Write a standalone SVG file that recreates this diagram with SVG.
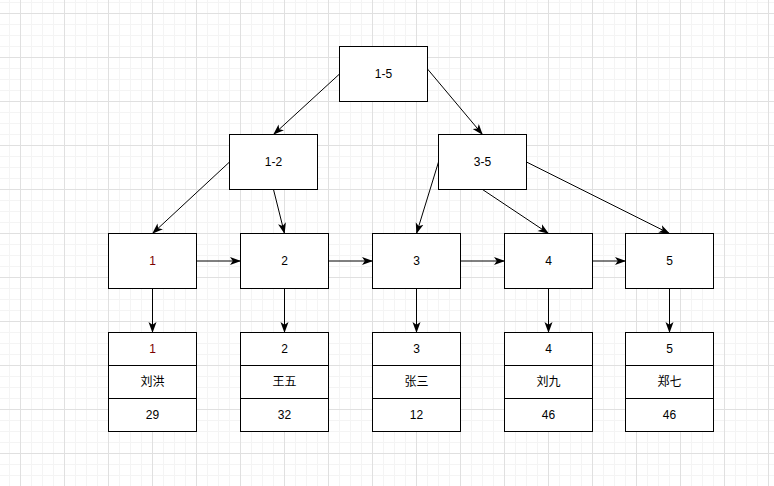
<svg xmlns="http://www.w3.org/2000/svg" width="774" height="486" viewBox="0 0 774 486">
<defs>
<pattern id="minor" x="20" y="13" width="11" height="11" patternUnits="userSpaceOnUse">
<path d="M0.5 0V11M0 0.5H11" fill="none" stroke="#f4f4f4" stroke-width="1"/>
</pattern>
<pattern id="major" x="20" y="13" width="44" height="44" patternUnits="userSpaceOnUse">
<path d="M0.5 0V44M0 0.5H44" fill="none" stroke="#e0e0e0" stroke-width="1"/>
</pattern>
<marker id="arr" viewBox="0 0 11 11" refX="10.5" refY="5.5" markerWidth="11" markerHeight="11" markerUnits="userSpaceOnUse" orient="auto">
<path d="M0 1.5L11 5.5L0 9.5L2.8 5.5Z" fill="#000"/>
</marker>
</defs>
<style>
.box{fill:#fff;stroke:#000;stroke-width:1}
.t{font-family:"Liberation Sans","Noto Sans CJK SC",sans-serif;font-size:12px;fill:#000;text-anchor:middle;dominant-baseline:central}
.red{fill:#7a0000}
.c{fill:none;stroke:#000;stroke-width:1;marker-end:url(#arr)}
</style>
<rect width="774" height="486" fill="#fff"/>
<rect width="774" height="486" fill="url(#minor)"/>
<rect width="774" height="486" fill="url(#major)"/>
<g id="connectors">
<path class="c" d="M339.5 74L273.5 134.5"/>
<path class="c" d="M427.5 69L482.5 134.5"/>
<path class="c" d="M229.5 162L152.5 233.5"/>
<path class="c" d="M273.5 189.5L284.5 233.5"/>
<path class="c" d="M438.5 162L416.5 233.5"/>
<path class="c" d="M482.5 189.5L548.5 233.5"/>
<path class="c" d="M526.5 162L669.5 233.5"/>
<path class="c" d="M196.5 261H240.5"/>
<path class="c" d="M328.5 261H372.5"/>
<path class="c" d="M460.5 261H504.5"/>
<path class="c" d="M592.5 261H625.5"/>
<path class="c" d="M152.5 288.5V332.5"/>
<path class="c" d="M284.5 288.5V332.5"/>
<path class="c" d="M416.5 288.5V332.5"/>
<path class="c" d="M548.5 288.5V332.5"/>
<path class="c" d="M669.5 288.5V332.5"/>
</g>
<g id="n15"><rect class="box" x="339.5" y="46.5" width="88" height="55"/><text class="t" x="383.5" y="74">1-5</text></g>
<g id="n12"><rect class="box" x="229.5" y="134.5" width="88" height="55"/><text class="t" x="273.5" y="162">1-2</text></g>
<g id="n35"><rect class="box" x="438.5" y="134.5" width="88" height="55"/><text class="t" x="482.5" y="162">3-5</text></g>
<g id="l1"><rect class="box" x="108.5" y="233.5" width="88" height="55"/><text class="t red" x="152.5" y="261">1</text></g>
<g id="l2"><rect class="box" x="240.5" y="233.5" width="88" height="55"/><text class="t" x="284.5" y="261">2</text></g>
<g id="l3"><rect class="box" x="372.5" y="233.5" width="88" height="55"/><text class="t" x="416.5" y="261">3</text></g>
<g id="l4"><rect class="box" x="504.5" y="233.5" width="88" height="55"/><text class="t" x="548.5" y="261">4</text></g>
<g id="l5"><rect class="box" x="625.5" y="233.5" width="88" height="55"/><text class="t" x="669.5" y="261">5</text></g>
<g id="d1">
<rect class="box" x="108.5" y="332.5" width="88" height="33"/><text class="t red" x="152.5" y="349">1</text>
<rect class="box" x="108.5" y="365.5" width="88" height="33"/><text class="t" x="152.5" y="382">刘洪</text>
<rect class="box" x="108.5" y="398.5" width="88" height="33"/><text class="t" x="152.5" y="415">29</text>
</g>
<g id="d2">
<rect class="box" x="240.5" y="332.5" width="88" height="33"/><text class="t" x="284.5" y="349">2</text>
<rect class="box" x="240.5" y="365.5" width="88" height="33"/><text class="t" x="284.5" y="382">王五</text>
<rect class="box" x="240.5" y="398.5" width="88" height="33"/><text class="t" x="284.5" y="415">32</text>
</g>
<g id="d3">
<rect class="box" x="372.5" y="332.5" width="88" height="33"/><text class="t" x="416.5" y="349">3</text>
<rect class="box" x="372.5" y="365.5" width="88" height="33"/><text class="t" x="416.5" y="382">张三</text>
<rect class="box" x="372.5" y="398.5" width="88" height="33"/><text class="t" x="416.5" y="415">12</text>
</g>
<g id="d4">
<rect class="box" x="504.5" y="332.5" width="88" height="33"/><text class="t" x="548.5" y="349">4</text>
<rect class="box" x="504.5" y="365.5" width="88" height="33"/><text class="t" x="548.5" y="382">刘九</text>
<rect class="box" x="504.5" y="398.5" width="88" height="33"/><text class="t" x="548.5" y="415">46</text>
</g>
<g id="d5">
<rect class="box" x="625.5" y="332.5" width="88" height="33"/><text class="t" x="669.5" y="349">5</text>
<rect class="box" x="625.5" y="365.5" width="88" height="33"/><text class="t" x="669.5" y="382">郑七</text>
<rect class="box" x="625.5" y="398.5" width="88" height="33"/><text class="t" x="669.5" y="415">46</text>
</g>
</svg>
